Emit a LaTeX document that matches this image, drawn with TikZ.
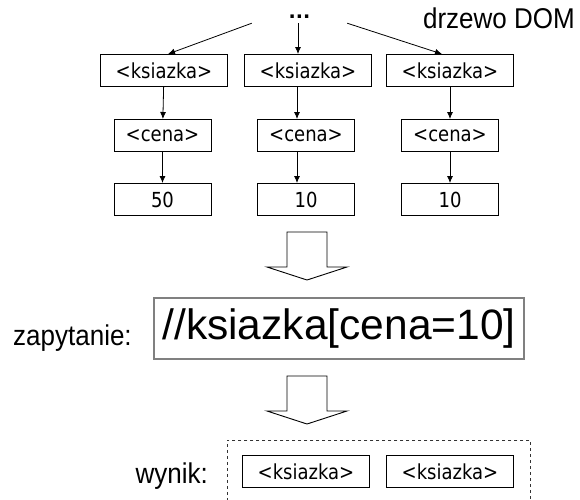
\documentclass[tikz,border=0pt]{standalone}
\usepackage{fontspec}
\usepackage{graphicx}
\setmainfont{Liberation Sans}
\newfontfamily\tagfont{DejaVu Sans}
\usetikzlibrary{arrows.meta}

\newcommand{\tagsize}{\tagfont\fontsize{18pt}{20pt}\selectfont}
\newcommand{\hoch}[2][1.1]{\scalebox{1}[#1]{#2}}
\newcommand{\hohlpfeil}[1]{\draw[line width=0.9pt] (#1) ++(-20,0) -- ++(40,0) -- ++(0,35) -- ++(20,0) -- ++(-40,13) -- ++(-40,-13) -- ++(20,0) -- cycle;}

\begin{document}
\begin{tikzpicture}[x=1pt,y=-1pt,>={Latex[length=7pt,width=6pt]},
  tag/.style={draw,line width=1pt,minimum height=32pt,inner sep=0pt,font=\tagsize},
  wide/.style={tag,minimum width=127pt},
  narrow/.style={tag,minimum width=97pt},
  pil/.style={->,line width=0.8pt},
  lbl/.style={inner sep=0pt,font=\fontsize{26pt}{28pt}\selectfont}]
\path[use as bounding box,clip] (0,0) rectangle (580,499);

% drzewo
\node[minimum width=95pt,minimum height=12pt,inner sep=0pt,font=\tagfont\bfseries\fontsize{19pt}{20pt}\selectfont] (dots) at (299.5,17) {...};
\node[lbl,anchor=base east] (dom) at (575,28) {\hoch{drzewo DOM}};

\node[wide] (b1) at (164,70.5) {\hoch[1.15]{<ksiazka>}};
\node[wide] (b2) at (308,70.5) {\hoch[1.15]{<ksiazka>}};
\node[wide] (b3) at (450,70.5) {\hoch[1.15]{<ksiazka>}};

\node[narrow] (c1) at (162.5,135.5) {\hoch[1.15]{<cena>}};
\node[narrow] (c2) at (306,135.5) {\hoch[1.15]{<cena>}};
\node[narrow] (c3) at (450,135.5) {\hoch[1.15]{<cena>}};

\node[narrow] (v1) at (162.5,199.5) {\hoch[1.15]{50}};
\node[narrow] (v2) at (306,199.5) {\hoch[1.15]{10}};
\node[narrow] (v3) at (450,199.5) {\hoch[1.15]{10}};

\path[draw,pil] (dots.south west) -- ([xshift=4pt]b1.north);
\path[draw,pil] ([xshift=-1.5pt]dots.south) -- ([xshift=-1.5pt]dots.south |- b2.north);
\path[draw,pil] (dots.south east) -- ([xshift=-8pt]b3.north);

\path[draw,pil] (b1) -- (c1);
\path[draw,pil] (b2.south -| c2.south west) ++(40,0) coordinate (m2) -- (m2 |- c2.north);
\path[draw,pil] (b3) -- (c3);
\path[draw,pil] (c1) -- (v1);
\path[draw,pil] (c2.south -| m2) -- (v2.north -| m2);
\path[draw,pil] (c3) -- (v3);

% zapytanie
\coordinate (p1) at (307,232);
\hohlpfeil{p1}
\node[lbl,anchor=base west] (zap) at (13,345) {\hoch{zapytanie:}};
\node[draw=black!50,line width=1.3pt,minimum width=370pt,minimum height=61pt,inner sep=0pt,font=\fontsize{42.5pt}{46pt}\selectfont] (q) at (339,328.5) {//ksiazka[cena=10]};

% wynik
\coordinate (p2) at (307,376);
\hohlpfeil{p2}
\node[draw=black!80,dashed,line width=0.8pt,anchor=north west,minimum width=303pt,minimum height=80pt] (res) at (227,439.5) {};
\node[lbl,anchor=base east] (wyn) at (208,483) {\hoch{wynik:}};
\node[wide] (r1) at (306,471.5) {\hoch[1.15]{<ksiazka>}};
\node[wide] (r2) at (450,471.5) {\hoch[1.15]{<ksiazka>}};

\end{tikzpicture}
\end{document}
